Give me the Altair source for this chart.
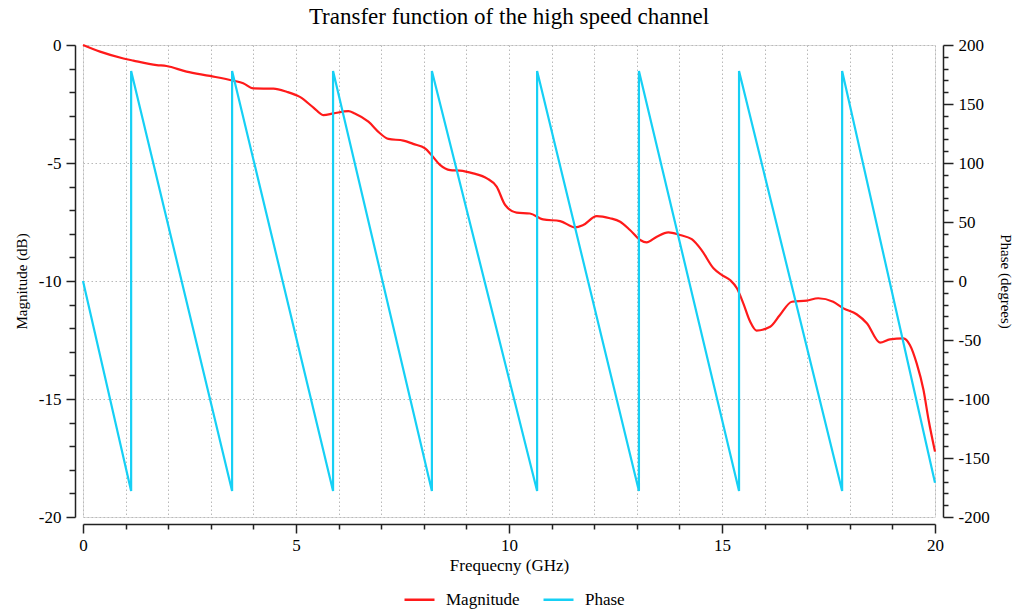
import altair as alt
import pandas as pd

# Magnitude curve (GHz, dB)
mag_freq = [0, 0.4, 0.95, 1.18, 1.73, 1.96, 2.43, 2.98, 3.53, 3.76, 4.0, 4.47, 4.78,
            5.09, 5.41, 5.64, 5.88, 6.23, 6.38, 6.70, 6.97, 7.17, 7.52, 7.75, 8.03,
            8.18, 8.38, 8.62, 8.85, 9.16, 9.48, 9.71, 9.91, 10.18, 10.49, 10.80,
            11.20, 11.55, 11.74, 12.06, 12.37, 12.61, 12.84, 13.08, 13.23, 13.47,
            13.74, 14.01, 14.29, 14.52, 14.80, 15.0, 15.19, 15.35, 15.50, 15.66,
            15.81, 16.13, 16.36, 16.64, 16.99, 17.26, 17.61, 17.85, 18.16, 18.40,
            18.71, 18.94, 19.26, 19.41, 19.57, 19.73, 19.85, 20.0]
mag_db = [0, -0.28, -0.57, -0.66, -0.85, -0.89, -1.13, -1.31, -1.51, -1.62, -1.84, -1.85, -1.98,
          -2.2, -2.65, -2.97, -2.90, -2.80, -2.90, -3.25, -3.74, -3.98, -4.05, -4.19, -4.38,
          -4.66, -5.08, -5.30, -5.32, -5.44, -5.65, -6.0, -6.78, -7.1, -7.14, -7.39,
          -7.46, -7.73, -7.63, -7.25, -7.34, -7.49, -7.84, -8.26, -8.36, -8.12,
          -7.94, -8.05, -8.23, -8.69, -9.46, -9.75, -9.96, -10.31, -10.95, -11.72,
          -12.10, -11.94, -11.44, -10.88, -10.83, -10.73, -10.88, -11.16, -11.41, -11.79,
          -12.61, -12.47, -12.43, -12.71, -13.49, -14.62, -15.89, -17.23]

# Phase sawtooth (GHz, degrees)
phase_freq = [0, 1.13, 1.13, 3.50, 3.50, 5.87, 5.87, 8.19, 8.19, 10.66, 10.66,
              13.05, 13.05, 15.40, 15.40, 17.82, 17.82, 20.0]
phase_deg = [0, -178, 178, -178, 178, -178, 178, -178, 178, -178, 178,
             -178, 178, -178, 178, -178, 178, -171]

series_names = ["Magnitude", "Phase"]
series_colors = ["#ff1a1a", "#16d0f5"]

FONT = "Liberation Serif"

mag_df = pd.DataFrame({"f": mag_freq, "v": mag_db, "series": "Magnitude",
                       "i": range(len(mag_freq))})
ph_df = pd.DataFrame({"f": phase_freq, "v": phase_deg, "series": "Phase",
                      "i": range(len(phase_freq))})

color = alt.Color("series:N",
                  scale=alt.Scale(domain=series_names, range=series_colors),
                  legend=alt.Legend(title=None, orient="none", direction="horizontal",
                                    legendX=320, legendY=538,
                                    symbolType="stroke", symbolSize=900,
                                    symbolStrokeWidth=2.5,
                                    labelFont=FONT, labelFontSize=17, labelColor="#000",
                                    columnPadding=18, labelOffset=10))

GRID = dict(grid=True, gridDash=[1.5, 2.5], gridColor="#b8b8b8", gridWidth=1)

x_enc = alt.X("f:Q", scale=alt.Scale(domain=[0, 20], nice=False),
              axis=alt.Axis(title="Frequecny (GHz)", values=list(range(0, 21)),
                            labelExpr="datum.value % 5 === 0 ? ('' + datum.value) : ''",
                            tickSize={"condition": {"test": "datum.value % 5 === 0", "value": 9}, "value": 5},
                            offset=7, labelFlush=False, labelOverlap=False,
                            domainColor="#222", tickColor="#222", domainWidth=1.5, tickWidth=1.5,
                            labelFont=FONT, labelFontSize=17, labelColor="#000", labelPadding=4,
                            titleFont=FONT, titleFontSize=17, titleFontWeight="normal",
                            titleColor="#000", titlePadding=4, **GRID))

mag = alt.Chart(mag_df).mark_line(strokeWidth=2.2, interpolate="monotone").encode(
    x=x_enc,
    y=alt.Y("v:Q", scale=alt.Scale(domain=[-20, 0], nice=False),
            axis=alt.Axis(title="Magnitude (dB)", orient="left", values=list(range(-20, 1)),
                          labelExpr="datum.value % 5 === 0 ? ('' + datum.value) : ''",
                          tickSize={"condition": {"test": "datum.value % 5 === 0", "value": 9}, "value": 6},
                          gridOpacity={"condition": {"test": "datum.value % 5 === 0", "value": 1}, "value": 0},
                          offset=8, labelFlush=False, labelOverlap=False,
                          domainColor="#222", tickColor="#222", domainWidth=1.5, tickWidth=1.5,
                          labelFont=FONT, labelFontSize=17, labelColor="#000", labelPadding=5,
                          titleFont=FONT, titleFontSize=15, titleFontWeight="normal",
                          titleColor="#000", titlePadding=9, **GRID)),
    color=color,
    order="i:Q",
)

ph = alt.Chart(ph_df).mark_line(strokeWidth=2.2).encode(
    x=alt.X("f:Q"),
    y=alt.Y("v:Q", scale=alt.Scale(domain=[-200, 200], nice=False),
            axis=alt.Axis(title="Phase (degrees)", orient="right", values=list(range(-200, 201, 10)),
                          labelExpr="datum.value % 50 === 0 ? ('' + datum.value) : ''",
                          tickSize={"condition": {"test": "datum.value % 50 === 0", "value": 10}, "value": 5},
                          offset=8, labelFlush=False, labelOverlap=False, grid=False,
                          domainColor="#222", tickColor="#222", domainWidth=1.5, tickWidth=1.5,
                          labelFont=FONT, labelFontSize=17, labelColor="#000", labelPadding=5,
                          titleFont=FONT, titleFontSize=15, titleFontWeight="normal",
                          titleColor="#000", titlePadding=8, titleAngle=90)),
    color=color,
    order="i:Q",
)

chart = alt.layer(mag, ph).resolve_scale(y="independent").properties(
    width=852, height=472,
    autosize=alt.AutoSizeParams(type="none"),
    padding={"left": 83, "top": 45, "right": 83, "bottom": 95},
    title=alt.TitleParams("Transfer function of the high speed channel", font=FONT,
                          fontSize=23, fontWeight="normal", color="#000", offset=7),
).configure_view(stroke=None).configure(background="white")

chart.save("out.html", embed_options={"renderer": "svg", "actions": False})
